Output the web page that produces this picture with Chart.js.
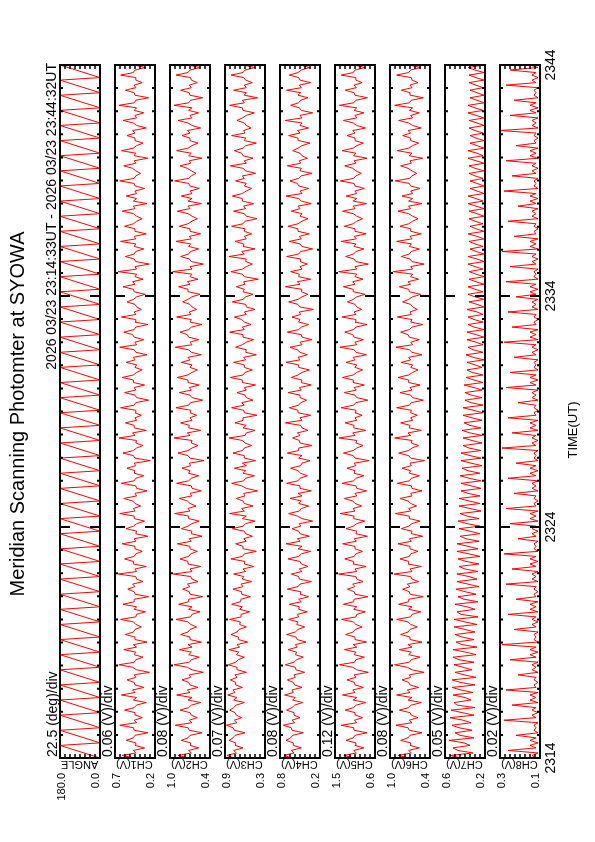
<!DOCTYPE html>
<html>
<head>
<meta charset="utf-8">
<title>Meridian Scanning Photomter at SYOWA</title>
<script src="https://cdn.jsdelivr.net/npm/chart.js@4.4.1/dist/chart.umd.min.js"></script>
<style>
  html, body { margin: 0; padding: 0; background: #fff; }
  #page { position: relative; width: 595px; height: 842px; overflow: hidden; }
  #page canvas { position: absolute; left: 0; top: 0; }
</style>
</head>
<body>
<div id="page"></div>
<script>
const FONT = '"Liberation Sans", Arial, sans-serif';

const titleText = 'Meridian Scanning Photomter at SYOWA';
const periodText = '2026 03/23 23:14:33UT - 2026 03/23 23:44:32UT';
const timeAxisTitle = 'TIME(UT)';
const timeTicks = [0, 10, 20, 30];               // minutes after 23:14
const timeTickLabels = ['2314', '2324', '2334', '2344'];

const channelNames = ['ANGLE', 'CH1(V)', 'CH2(V)', 'CH3(V)', 'CH4(V)', 'CH5(V)', 'CH6(V)', 'CH7(V)', 'CH8(V)'];
const scaleMax = [180.0, 0.7, 1.0, 0.9, 0.8, 1.5, 1.0, 0.6, 0.3];
const scaleMin = [0.0, 0.2, 0.4, 0.3, 0.2, 0.6, 0.4, 0.2, 0.1];
const divLabels = ['22.5 (deg)/div', '0.06 (V)/div', '0.08 (V)/div', '0.07 (V)/div', '0.08 (V)/div',
                   '0.12 (V)/div', '0.08 (V)/div', '0.05 (V)/div', '0.02 (V)/div'];

// scan angle, 6 samples per scan (46 scans)
const ang = [
  0,36,72,108,144,180, 0,36,72,108,144,180, 0,36,72,108,144,180, 0,36,72,108,144,180,
  0,36,72,108,144,180, 0,36,72,108,144,180, 0,36,72,108,144,180, 0,36,72,108,144,180,
  0,36,72,108,144,180, 0,36,72,108,144,180, 0,36,72,108,144,180, 0,36,72,108,144,180,
  0,36,72,108,144,180, 0,36,72,108,144,180, 0,36,72,108,144,180, 0,36,72,108,144,180,
  0,36,72,108,144,180, 0,36,72,108,144,180, 0,36,72,108,144,180, 0,36,72,108,144,180,
  0,36,72,108,144,180, 0,36,72,108,144,180, 0,36,72,108,144,180, 0,36,72,108,144,180,
  0,36,72,108,144,180, 0,36,72,108,144,180, 0,36,72,108,144,180, 0,36,72,108,144,180,
  0,36,72,108,144,180, 0,36,72,108,144,180, 0,36,72,108,144,180, 0,36,72,108,144,180,
  0,36,72,108,144,180, 0,36,72,108,144,180, 0,36,72,108,144,180, 0,36,72,108,144,180,
  0,36,72,108,144,180, 0,36,72,108,144,180, 0,36,72,108,144,180, 0,36,72,108,144,180,
  0,36,72,108,144,180, 0,36,72,108,144,180, 0,36,72,108,144,180, 0,36,72,108,144,180,
  0,36,72,108,144,180, 0,36,72,108,144,180
];

const ch1 = [
  0.46,0.61,0.44,0.47,0.33,0.45, 0.44,0.56,0.47,0.45,0.29,0.46, 0.47,0.64,0.43,0.46,0.36,0.44,
  0.45,0.58,0.46,0.43,0.31,0.47, 0.43,0.62,0.45,0.48,0.34,0.45, 0.46,0.55,0.44,0.46,0.27,0.43,
  0.48,0.65,0.46,0.44,0.35,0.46, 0.44,0.59,0.43,0.47,0.30,0.45, 0.45,0.57,0.47,0.45,0.37,0.44,
  0.47,0.63,0.44,0.43,0.32,0.46, 0.43,0.60,0.46,0.46,0.28,0.45, 0.46,0.54,0.45,0.48,0.35,0.43,
  0.44,0.66,0.43,0.45,0.31,0.47, 0.47,0.58,0.46,0.44,0.36,0.45, 0.45,0.61,0.44,0.46,0.29,0.44,
  0.43,0.56,0.47,0.43,0.33,0.46, 0.46,0.64,0.45,0.47,0.38,0.45, 0.48,0.59,0.43,0.45,0.30,0.43,
  0.44,0.62,0.46,0.44,0.34,0.46, 0.45,0.55,0.44,0.46,0.26,0.45, 0.47,0.60,0.47,0.43,0.35,0.44,
  0.43,0.65,0.45,0.48,0.31,0.46, 0.46,0.57,0.43,0.45,0.37,0.45, 0.44,0.63,0.46,0.44,0.28,0.43,
  0.45,0.58,0.44,0.46,0.33,0.47, 0.47,0.61,0.47,0.43,0.36,0.45, 0.43,0.56,0.45,0.47,0.30,0.44,
  0.46,0.64,0.43,0.45,0.34,0.46, 0.48,0.59,0.46,0.44,0.29,0.45, 0.44,0.62,0.44,0.46,0.37,0.43,
  0.45,0.55,0.47,0.43,0.32,0.46, 0.47,0.60,0.45,0.48,0.35,0.45, 0.43,0.66,0.43,0.45,0.27,0.44,
  0.46,0.57,0.46,0.44,0.34,0.46, 0.44,0.63,0.44,0.46,0.31,0.45, 0.45,0.58,0.47,0.43,0.36,0.43,
  0.47,0.61,0.45,0.47,0.30,0.47, 0.43,0.56,0.43,0.45,0.33,0.45, 0.46,0.64,0.46,0.44,0.38,0.44,
  0.48,0.59,0.44,0.46,0.29,0.46, 0.44,0.62,0.47,0.43,0.35,0.45, 0.45,0.55,0.45,0.48,0.31,0.43,
  0.47,0.60,0.43,0.45,0.34,0.46, 0.43,0.65,0.46,0.44,0.28,0.45, 0.46,0.57,0.44,0.46,0.36,0.44,
  0.44,0.63,0.47,0.45,0.32,0.46
];

const ch2 = [
  0.71,0.88,0.68,0.72,0.57,0.70, 0.69,0.83,0.73,0.70,0.52,0.71, 0.73,0.92,0.67,0.71,0.59,0.68,
  0.70,0.85,0.72,0.68,0.54,0.73, 0.67,0.90,0.70,0.74,0.58,0.70, 0.72,0.82,0.69,0.71,0.50,0.67,
  0.74,0.94,0.71,0.68,0.56,0.72, 0.68,0.86,0.67,0.73,0.53,0.70, 0.70,0.84,0.73,0.70,0.60,0.69,
  0.73,0.91,0.69,0.67,0.55,0.72, 0.67,0.87,0.72,0.72,0.51,0.70, 0.71,0.81,0.70,0.74,0.58,0.67,
  0.69,0.95,0.67,0.70,0.54,0.73, 0.73,0.85,0.72,0.69,0.59,0.70, 0.70,0.89,0.68,0.71,0.52,0.68,
  0.67,0.83,0.73,0.67,0.56,0.72, 0.72,0.93,0.70,0.73,0.61,0.70, 0.74,0.86,0.67,0.70,0.53,0.67,
  0.68,0.90,0.72,0.68,0.57,0.72, 0.70,0.82,0.69,0.71,0.49,0.70, 0.73,0.88,0.73,0.67,0.58,0.68,
  0.67,0.94,0.70,0.74,0.54,0.72, 0.71,0.84,0.67,0.70,0.60,0.70, 0.69,0.91,0.72,0.69,0.51,0.67,
  0.70,0.86,0.68,0.71,0.56,0.73, 0.73,0.89,0.73,0.67,0.59,0.70, 0.67,0.83,0.70,0.73,0.53,0.68,
  0.72,0.92,0.67,0.70,0.57,0.72, 0.74,0.85,0.72,0.68,0.52,0.70, 0.68,0.90,0.69,0.71,0.60,0.67,
  0.70,0.81,0.73,0.67,0.55,0.72, 0.73,0.87,0.70,0.74,0.58,0.70, 0.67,0.96,0.67,0.70,0.50,0.68,
  0.71,0.84,0.72,0.69,0.57,0.72, 0.69,0.91,0.68,0.71,0.54,0.70, 0.70,0.86,0.73,0.67,0.59,0.67,
  0.73,0.89,0.70,0.73,0.53,0.73, 0.67,0.83,0.67,0.70,0.56,0.70, 0.72,0.93,0.72,0.68,0.61,0.68,
  0.74,0.85,0.69,0.71,0.52,0.72, 0.68,0.90,0.73,0.67,0.58,0.70, 0.70,0.82,0.70,0.74,0.54,0.67,
  0.73,0.88,0.67,0.70,0.57,0.72, 0.67,0.94,0.72,0.69,0.51,0.70, 0.71,0.84,0.68,0.71,0.59,0.68,
  0.69,0.91,0.73,0.70,0.55,0.72
];

const ch3 = [
  0.76,0.87,0.73,0.77,0.63,0.75, 0.74,0.84,0.78,0.75,0.60,0.76, 0.78,0.88,0.72,0.76,0.65,0.73,
  0.75,0.83,0.77,0.73,0.61,0.77, 0.72,0.86,0.75,0.78,0.64,0.74, 0.74,0.82,0.72,0.75,0.58,0.71,
  0.72,0.85,0.74,0.70,0.61,0.73, 0.69,0.84,0.68,0.72,0.56,0.70, 0.70,0.81,0.72,0.69,0.58,0.68,
  0.67,0.83,0.66,0.66,0.53,0.68, 0.64,0.80,0.67,0.66,0.52,0.65, 0.65,0.78,0.63,0.66,0.50,0.64,
  0.62,0.77,0.59,0.63,0.47,0.61, 0.60,0.81,0.64,0.61,0.43,0.62, 0.63,0.74,0.58,0.62,0.49,0.59,
  0.61,0.79,0.63,0.59,0.45,0.64, 0.58,0.83,0.61,0.65,0.48,0.61, 0.63,0.73,0.60,0.62,0.41,0.58,
  0.65,0.80,0.62,0.59,0.46,0.63, 0.59,0.76,0.58,0.64,0.44,0.61, 0.61,0.78,0.64,0.61,0.50,0.60,
  0.64,0.84,0.60,0.58,0.45,0.63, 0.58,0.75,0.63,0.63,0.42,0.61, 0.62,0.80,0.61,0.65,0.48,0.58,
  0.60,0.72,0.58,0.61,0.44,0.64, 0.64,0.82,0.63,0.60,0.49,0.61, 0.61,0.77,0.59,0.62,0.43,0.59,
  0.58,0.74,0.64,0.58,0.47,0.63, 0.63,0.83,0.61,0.64,0.51,0.61, 0.65,0.76,0.58,0.61,0.45,0.58,
  0.59,0.79,0.63,0.59,0.48,0.63, 0.61,0.73,0.60,0.62,0.40,0.61, 0.64,0.81,0.64,0.58,0.49,0.59,
  0.58,0.84,0.61,0.65,0.45,0.63, 0.62,0.75,0.58,0.61,0.50,0.61, 0.60,0.80,0.63,0.60,0.42,0.58,
  0.61,0.77,0.59,0.62,0.47,0.64, 0.64,0.79,0.64,0.58,0.50,0.61, 0.58,0.74,0.61,0.64,0.44,0.59,
  0.63,0.82,0.58,0.61,0.48,0.63, 0.65,0.76,0.63,0.59,0.43,0.61, 0.59,0.80,0.60,0.62,0.51,0.58,
  0.61,0.72,0.64,0.58,0.46,0.63, 0.64,0.83,0.61,0.64,0.41,0.61, 0.58,0.77,0.58,0.61,0.49,0.59,
  0.62,0.81,0.63,0.60,0.45,0.63
];

const ch4 = [
  0.62,0.74,0.59,0.63,0.48,0.60, 0.60,0.71,0.64,0.61,0.45,0.62, 0.63,0.75,0.58,0.62,0.50,0.59,
  0.59,0.70,0.62,0.58,0.46,0.61, 0.57,0.73,0.60,0.62,0.47,0.58, 0.60,0.69,0.57,0.59,0.43,0.56,
  0.57,0.72,0.59,0.55,0.45,0.57, 0.55,0.68,0.54,0.57,0.41,0.54, 0.56,0.70,0.57,0.53,0.43,0.55,
  0.53,0.67,0.52,0.54,0.39,0.52, 0.51,0.66,0.48,0.52,0.37,0.50, 0.49,0.69,0.53,0.50,0.33,0.51,
  0.52,0.63,0.47,0.51,0.38,0.48, 0.50,0.68,0.52,0.48,0.34,0.53, 0.47,0.71,0.50,0.54,0.36,0.50,
  0.52,0.62,0.49,0.51,0.31,0.47, 0.54,0.67,0.51,0.48,0.37,0.52, 0.48,0.65,0.47,0.53,0.33,0.50,
  0.50,0.70,0.53,0.50,0.39,0.49, 0.53,0.64,0.49,0.47,0.35,0.52, 0.47,0.69,0.52,0.52,0.32,0.50,
  0.51,0.61,0.50,0.54,0.38,0.47, 0.49,0.72,0.47,0.50,0.34,0.53, 0.53,0.66,0.52,0.49,0.40,0.50,
  0.50,0.68,0.48,0.51,0.33,0.48, 0.47,0.63,0.53,0.47,0.36,0.52, 0.52,0.71,0.50,0.53,0.39,0.50,
  0.54,0.65,0.47,0.50,0.32,0.47, 0.48,0.69,0.52,0.48,0.37,0.52, 0.50,0.62,0.49,0.51,0.30,0.50,
  0.53,0.67,0.53,0.47,0.38,0.48, 0.47,0.72,0.50,0.54,0.34,0.52, 0.51,0.64,0.47,0.50,0.39,0.50,
  0.49,0.70,0.52,0.49,0.31,0.47, 0.50,0.66,0.48,0.51,0.36,0.53, 0.53,0.68,0.53,0.47,0.38,0.50,
  0.47,0.63,0.50,0.53,0.33,0.48, 0.52,0.71,0.47,0.50,0.37,0.52, 0.54,0.65,0.52,0.48,0.32,0.50,
  0.48,0.69,0.49,0.51,0.39,0.47, 0.50,0.61,0.53,0.47,0.35,0.52, 0.53,0.67,0.50,0.54,0.37,0.50,
  0.47,0.72,0.47,0.50,0.31,0.48, 0.51,0.64,0.52,0.49,0.38,0.53, 0.49,0.70,0.48,0.51,0.34,0.50,
  0.52,0.66,0.53,0.48,0.36,0.49
];

const ch5 = [
  1.06,1.30,1.02,1.08,0.85,1.05, 1.03,1.25,1.09,1.05,0.78,1.07, 1.08,1.36,1.01,1.06,0.88,1.03,
  1.05,1.27,1.08,1.02,0.81,1.09, 1.01,1.33,1.05,1.10,0.86,1.05, 1.06,1.23,1.03,1.07,0.75,1.01,
  1.10,1.40,1.06,1.03,0.84,1.07, 1.03,1.29,1.01,1.09,0.79,1.05, 1.05,1.26,1.09,1.05,0.89,1.03,
  1.09,1.35,1.03,1.01,0.82,1.08, 1.01,1.31,1.08,1.07,0.76,1.05, 1.07,1.22,1.05,1.10,0.87,1.01,
  1.03,1.42,1.01,1.05,0.80,1.09, 1.08,1.28,1.07,1.03,0.88,1.05, 1.05,1.33,1.02,1.07,0.77,1.03,
  1.01,1.25,1.09,1.01,0.83,1.08, 1.07,1.38,1.05,1.09,0.90,1.05, 1.10,1.29,1.01,1.05,0.79,1.01,
  1.03,1.34,1.08,1.03,0.85,1.07, 1.05,1.23,1.03,1.07,0.73,1.05, 1.09,1.31,1.09,1.01,0.87,1.03,
  1.01,1.41,1.05,1.10,0.81,1.08, 1.07,1.27,1.01,1.05,0.89,1.05, 1.03,1.36,1.08,1.03,0.76,1.01,
  1.05,1.29,1.02,1.07,0.84,1.09, 1.09,1.33,1.09,1.01,0.88,1.05, 1.01,1.25,1.05,1.09,0.79,1.03,
  1.07,1.39,1.01,1.05,0.86,1.07, 1.10,1.28,1.08,1.03,0.78,1.05, 1.03,1.34,1.03,1.07,0.90,1.01,
  1.05,1.22,1.09,1.01,0.82,1.08, 1.09,1.31,1.05,1.10,0.87,1.05, 1.01,1.42,1.01,1.05,0.75,1.03,
  1.07,1.26,1.08,1.03,0.85,1.07, 1.03,1.36,1.02,1.07,0.80,1.05, 1.05,1.29,1.09,1.01,0.88,1.01,
  1.09,1.33,1.05,1.09,0.79,1.09, 1.01,1.25,1.01,1.05,0.84,1.05, 1.07,1.38,1.08,1.03,0.91,1.03,
  1.10,1.28,1.03,1.07,0.78,1.08, 1.03,1.34,1.09,1.01,0.86,1.05, 1.05,1.23,1.05,1.10,0.81,1.01,
  1.09,1.31,1.01,1.05,0.85,1.07, 1.01,1.40,1.08,1.03,0.77,1.05, 1.07,1.27,1.02,1.07,0.89,1.03,
  1.03,1.36,1.09,1.05,0.82,1.08
];

const ch6 = [
  0.71,0.88,0.68,0.72,0.56,0.70, 0.69,0.84,0.73,0.70,0.52,0.71, 0.73,0.91,0.67,0.71,0.58,0.68,
  0.70,0.86,0.72,0.68,0.53,0.73, 0.67,0.90,0.70,0.74,0.57,0.70, 0.72,0.82,0.69,0.71,0.49,0.67,
  0.74,0.93,0.71,0.68,0.55,0.72, 0.68,0.86,0.67,0.73,0.52,0.70, 0.70,0.84,0.73,0.70,0.59,0.69,
  0.73,0.90,0.69,0.67,0.54,0.72, 0.67,0.87,0.72,0.72,0.50,0.70, 0.71,0.81,0.70,0.74,0.57,0.67,
  0.69,0.94,0.67,0.70,0.53,0.73, 0.72,0.85,0.71,0.69,0.58,0.70, 0.70,0.88,0.68,0.71,0.51,0.68,
  0.67,0.83,0.72,0.67,0.55,0.71, 0.71,0.92,0.69,0.72,0.60,0.69, 0.73,0.85,0.67,0.69,0.52,0.67,
  0.68,0.89,0.71,0.68,0.56,0.71, 0.69,0.82,0.68,0.70,0.48,0.69, 0.72,0.87,0.72,0.67,0.57,0.68,
  0.67,0.93,0.69,0.73,0.53,0.71, 0.70,0.84,0.66,0.69,0.59,0.69, 0.68,0.90,0.71,0.68,0.50,0.66,
  0.69,0.85,0.67,0.70,0.55,0.72, 0.72,0.88,0.72,0.66,0.58,0.69, 0.66,0.83,0.69,0.72,0.52,0.67,
  0.71,0.91,0.66,0.69,0.56,0.71, 0.73,0.84,0.71,0.67,0.51,0.69, 0.67,0.89,0.68,0.70,0.59,0.66,
  0.69,0.81,0.72,0.66,0.54,0.71, 0.72,0.86,0.69,0.73,0.57,0.69, 0.66,0.95,0.66,0.69,0.49,0.67,
  0.70,0.83,0.71,0.68,0.56,0.71, 0.68,0.90,0.67,0.70,0.53,0.69, 0.69,0.85,0.72,0.66,0.58,0.66,
  0.72,0.88,0.69,0.72,0.52,0.72, 0.66,0.82,0.66,0.69,0.55,0.69, 0.71,0.92,0.71,0.67,0.60,0.67,
  0.73,0.84,0.68,0.70,0.51,0.71, 0.67,0.89,0.72,0.66,0.57,0.69, 0.69,0.81,0.69,0.73,0.53,0.66,
  0.72,0.87,0.66,0.69,0.56,0.71, 0.66,0.93,0.71,0.68,0.50,0.69, 0.70,0.83,0.67,0.70,0.58,0.67,
  0.68,0.90,0.72,0.69,0.54,0.71
];

const ch7 = [
  0.44,0.55,0.32,0.47,0.52,0.35, 0.41,0.56,0.31,0.45,0.50,0.33, 0.46,0.53,0.34,0.42,0.55,0.31,
  0.43,0.54,0.30,0.48,0.51,0.34, 0.40,0.52,0.32,0.44,0.53,0.30, 0.45,0.53,0.29,0.41,0.50,0.33,
  0.42,0.51,0.31,0.46,0.52,0.29, 0.39,0.52,0.28,0.43,0.49,0.31, 0.43,0.50,0.30,0.40,0.51,0.28,
  0.40,0.51,0.27,0.44,0.48,0.30, 0.38,0.50,0.27,0.41,0.47,0.29, 0.40,0.49,0.26,0.37,0.48,0.28,
  0.36,0.48,0.27,0.40,0.46,0.26, 0.39,0.47,0.25,0.36,0.48,0.27, 0.37,0.48,0.26,0.39,0.45,0.25,
  0.35,0.46,0.25,0.38,0.47,0.26, 0.38,0.45,0.24,0.35,0.46,0.25, 0.36,0.46,0.25,0.37,0.44,0.24,
  0.34,0.44,0.24,0.36,0.45,0.25, 0.37,0.43,0.23,0.34,0.44,0.24, 0.35,0.44,0.24,0.36,0.42,0.23,
  0.33,0.42,0.23,0.35,0.43,0.24, 0.35,0.41,0.23,0.33,0.42,0.22, 0.32,0.42,0.22,0.34,0.40,0.23,
  0.34,0.40,0.23,0.31,0.41,0.22, 0.31,0.39,0.22,0.33,0.38,0.23, 0.30,0.38,0.21,0.32,0.39,0.22,
  0.32,0.37,0.22,0.29,0.38,0.21, 0.29,0.38,0.21,0.31,0.37,0.22, 0.31,0.37,0.22,0.28,0.38,0.21,
  0.28,0.36,0.21,0.30,0.37,0.22, 0.30,0.37,0.21,0.29,0.36,0.21, 0.29,0.36,0.22,0.30,0.37,0.21,
  0.28,0.37,0.21,0.29,0.35,0.22, 0.30,0.36,0.21,0.28,0.37,0.21, 0.29,0.35,0.22,0.30,0.36,0.21,
  0.28,0.36,0.21,0.29,0.37,0.22, 0.29,0.37,0.21,0.28,0.35,0.21, 0.28,0.35,0.22,0.30,0.36,0.21,
  0.30,0.36,0.21,0.29,0.37,0.22, 0.28,0.37,0.21,0.28,0.35,0.21, 0.29,0.35,0.22,0.30,0.36,0.21,
  0.28,0.36,0.21,0.29,0.37,0.22, 0.30,0.37,0.21,0.28,0.35,0.21, 0.28,0.35,0.22,0.29,0.36,0.21,
  0.29,0.36,0.21,0.30,0.37,0.22
];

const ch8 = [
  0.12,0.14,0.11,0.26,0.12,0.15, 0.11,0.15,0.12,0.22,0.11,0.13, 0.12,0.13,0.11,0.28,0.12,0.14,
  0.11,0.14,0.12,0.24,0.11,0.15, 0.12,0.15,0.11,0.27,0.12,0.13, 0.11,0.13,0.12,0.21,0.11,0.14,
  0.12,0.14,0.11,0.25,0.12,0.15, 0.11,0.15,0.12,0.29,0.11,0.13, 0.12,0.13,0.11,0.23,0.12,0.14,
  0.11,0.14,0.12,0.26,0.11,0.15, 0.12,0.15,0.11,0.22,0.12,0.13, 0.11,0.13,0.12,0.27,0.11,0.14,
  0.12,0.14,0.11,0.24,0.12,0.15, 0.11,0.15,0.12,0.28,0.11,0.13, 0.12,0.13,0.11,0.21,0.12,0.14,
  0.11,0.14,0.12,0.25,0.11,0.15, 0.12,0.15,0.11,0.27,0.12,0.13, 0.11,0.13,0.12,0.23,0.11,0.14,
  0.12,0.14,0.11,0.26,0.12,0.15, 0.11,0.15,0.12,0.22,0.11,0.13, 0.12,0.13,0.11,0.29,0.12,0.14,
  0.11,0.14,0.12,0.24,0.11,0.15, 0.12,0.15,0.11,0.26,0.12,0.13, 0.11,0.13,0.12,0.21,0.11,0.14,
  0.12,0.14,0.11,0.27,0.12,0.15, 0.11,0.15,0.12,0.25,0.11,0.13, 0.12,0.13,0.11,0.23,0.12,0.14,
  0.11,0.14,0.12,0.28,0.11,0.15, 0.12,0.15,0.11,0.24,0.12,0.13, 0.11,0.13,0.12,0.26,0.11,0.14,
  0.12,0.14,0.11,0.22,0.12,0.15, 0.11,0.15,0.12,0.27,0.11,0.13, 0.12,0.13,0.11,0.25,0.12,0.14,
  0.11,0.14,0.12,0.29,0.11,0.15, 0.12,0.15,0.11,0.23,0.12,0.13, 0.11,0.13,0.12,0.26,0.11,0.14,
  0.12,0.14,0.11,0.21,0.12,0.15, 0.11,0.15,0.12,0.28,0.11,0.13, 0.12,0.13,0.11,0.24,0.12,0.14,
  0.11,0.14,0.12,0.27,0.11,0.15, 0.12,0.15,0.11,0.22,0.12,0.13, 0.11,0.13,0.12,0.30,0.11,0.14,
  0.12,0.14,0.11,0.25,0.12,0.15, 0.11,0.15,0.12,0.23,0.11,0.13, 0.12,0.13,0.11,0.27,0.12,0.14,
  0.11,0.14,0.12,0.25,0.11,0.15
];

const series = [ang, ch1, ch2, ch3, ch4, ch5, ch6, ch7, ch8];

// page layout (pixels)
const PAGE_W = 595, PAGE_H = 842;
const stripLeft0 = 60, stripStep = 55, stripWidth = 40;
const stripTop = 65, stripBottom = 758;

function drawText(ctx, text, x, y, angle, align, baseline, size) {
  ctx.save();
  ctx.translate(x, y);
  ctx.rotate(angle);
  ctx.font = size + 'px ' + FONT;
  ctx.textAlign = align;
  ctx.textBaseline = baseline;
  ctx.fillText(text, 0, 0);
  ctx.restore();
}

const UP = -Math.PI / 2;

const stripFrame = {
  id: 'stripFrame',
  afterDatasetsDraw(chart, args, opts) {
    const ctx = chart.ctx;
    const a = chart.chartArea;
    const xs = chart.scales.x, ys = chart.scales.y;
    const i = opts.index;
    ctx.save();
    ctx.strokeStyle = '#000';
    ctx.fillStyle = '#000';
    ctx.lineWidth = 2;

    // time ticks: every minute, long ones every 10 minutes
    ctx.beginPath();
    for (let m = 0; m <= 30; m++) {
      const py = ys.getPixelForValue(m);
      const len = m % 10 === 0 ? 10 : 3;
      ctx.moveTo(a.left, py); ctx.lineTo(a.left + len, py);
      ctx.moveTo(a.right, py); ctx.lineTo(a.right - len, py);
    }
    ctx.stroke();

    // value ticks, 8 divisions
    ctx.lineWidth = 1.5;
    ctx.beginPath();
    for (let k = 1; k < 8; k++) {
      const px = xs.getPixelForValue(scaleMin[i] + (scaleMax[i] - scaleMin[i]) * k / 8);
      ctx.moveTo(px, a.top); ctx.lineTo(px, a.top + 4);
      ctx.moveTo(px, a.bottom); ctx.lineTo(px, a.bottom - 4);
    }
    ctx.stroke();

    ctx.lineWidth = 2;
    ctx.strokeRect(a.left, a.top, a.width, a.height);

    // labels
    drawText(ctx, scaleMax[i].toFixed(1), a.left + 2, 773, UP, 'right', 'middle', 11);
    drawText(ctx, scaleMin[i].toFixed(1), a.right - 4, 773, UP, 'right', 'middle', 11);
    drawText(ctx, channelNames[i], a.left + 1, 761, Math.PI, 'right', 'alphabetic', 11);
    drawText(ctx, divLabels[i], a.left - 7, 757, UP, 'left', 'middle', 14);

    if (i === 0) {
      drawText(ctx, titleText, 18, 414, UP, 'center', 'middle', 20);
      drawText(ctx, periodText, 52, 63, UP, 'right', 'middle', 14);
    }
    if (i === series.length - 1) {
      timeTicks.forEach((t, k) => {
        drawText(ctx, timeTickLabels[k], 551, ys.getPixelForValue(t), UP, 'center', 'middle', 14);
      });
      drawText(ctx, timeAxisTitle, 573, 430, UP, 'center', 'middle', 13);
    }
    ctx.restore();
  }
};

const page = document.getElementById('page');

series.forEach((vals, i) => {
  const canvas = document.createElement('canvas');
  canvas.width = PAGE_W;
  canvas.height = PAGE_H;
  page.appendChild(canvas);

  const left = stripLeft0 + i * stripStep;
  // x = channel value, y = minutes after 23:14 (samples evenly spaced in time)
  const points = vals.map((v, k) => ({ x: v, y: k * 30 / (vals.length - 1) }));

  new Chart(canvas, {
    type: 'line',
    data: {
      datasets: [{
        data: points,
        borderColor: '#ff0000',
        borderWidth: 1,
        pointRadius: 0,
        tension: 0,
        fill: false,
        spanGaps: true
      }]
    },
    options: {
      responsive: false,
      animation: false,
      layout: {
        padding: { left: left, right: PAGE_W - left - stripWidth, top: stripTop, bottom: PAGE_H - stripBottom }
      },
      scales: {
        x: { type: 'linear', min: scaleMin[i], max: scaleMax[i], reverse: true, display: false },
        y: { type: 'linear', min: 0, max: 30, display: false }
      },
      plugins: {
        legend: { display: false },
        tooltip: { enabled: false },
        stripFrame: { index: i }
      }
    },
    plugins: [stripFrame]
  });
});
</script>
</body>
</html>
